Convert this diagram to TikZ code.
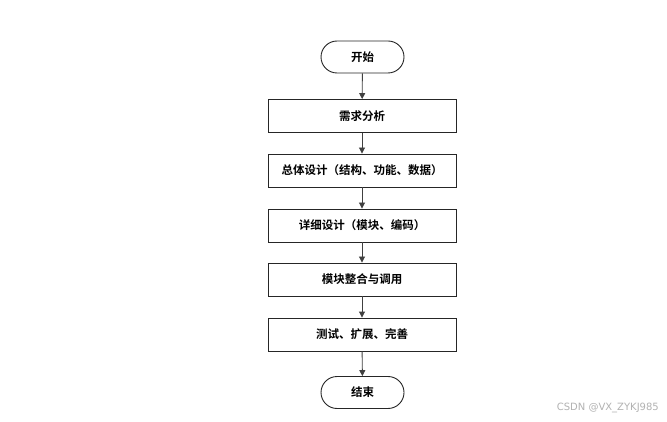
\documentclass[tikz,border=0pt]{standalone}
\usepackage{fontspec}
\newfontfamily\cjk{Noto Sans CJK SC}[BoldFont={* Bold}]
\newfontfamily\wmfont{DejaVu Sans}
\usetikzlibrary{arrows.meta}
\begin{document}
\begin{tikzpicture}[x=1pt,y=-1pt,
  procbox/.style={draw=black!85,line width=0.9pt,minimum width=188pt,minimum height=33pt,inner sep=0pt,font=\cjk\bfseries\fontsize{11.5}{12}\selectfont},
  termbox/.style={draw=black!85,line width=0.9pt,rounded corners=16pt,minimum width=83pt,minimum height=32pt,inner sep=0pt,font=\cjk\bfseries\fontsize{11.5}{12}\selectfont},
  flow/.style={draw=black!75,line width=0.9pt,-{Triangle[length=6pt,width=6pt]}}]
\useasboundingbox (0,0) rectangle (667,422);
\fill[white] (0,0) rectangle (667,422);
\node[termbox] (start) at (362.5,57) {开始};
\node[procbox] (b1) at (362,116) {需求分析};
\node[procbox] (b2) at (362,170.5) {总体设计（结构、功能、数据）};
\node[procbox] (b3) at (362,225.5) {详细设计（模块、编码）};
\node[procbox] (b4) at (362,279.5) {模块整合与调用};
\node[procbox] (b5) at (362,334.5) {测试、扩展、完善};
\node[termbox] (end) at (362.5,392.5) {结束};
\draw[flow] (start) -- (b1);
\draw[flow] (b1) -- (b2);
\draw[flow] (b2) -- (b3);
\draw[flow] (b3) -- (b4);
\draw[flow] (b4) -- (b5);
\draw[flow] (b5) -- (end);
\node[text=black!30,font=\wmfont\fontsize{10}{12}\selectfont,anchor=east,inner sep=0pt] (wm) at (659,408) {CSDN @VX\_ZYKJ985};
\end{tikzpicture}
\end{document}
